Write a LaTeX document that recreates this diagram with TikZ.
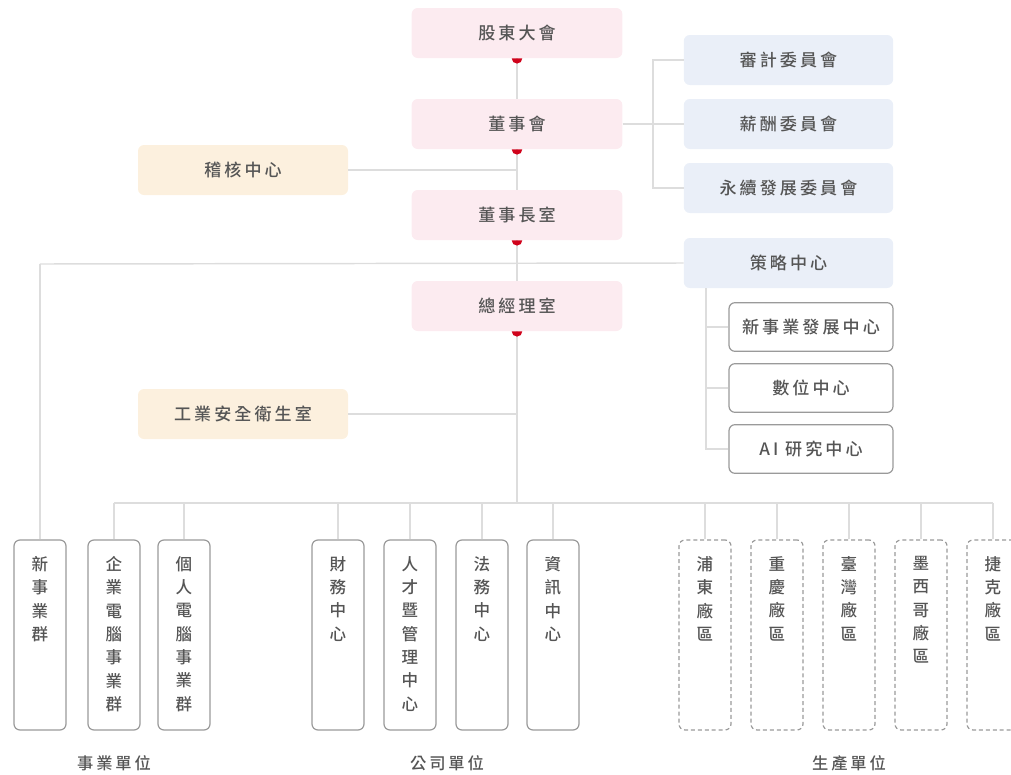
\documentclass[tikz,border=0pt]{standalone}
\usepackage{fontspec}
\setmainfont{Noto Sans CJK TC}[BoldFont={Noto Sans CJK TC Medium}]
\newfontfamily\cjkwide{Noto Sans CJK TC}[LetterSpace=18, BoldFont={Noto Sans CJK TC Medium}]
\usetikzlibrary{calc}

\definecolor{boardpink}{HTML}{FCEBF0}
\definecolor{cmteblue}{HTML}{EAEFF8}
\definecolor{staffbeige}{HTML}{FCF0DE}
\definecolor{linegray}{HTML}{DDDDDD}
\definecolor{boxgray}{HTML}{9A9A9A}
\definecolor{txtgray}{HTML}{555555}
\definecolor{dotred}{HTML}{D0021B}

\begin{document}
\begin{tikzpicture}[x=0.75pt,y=-0.75pt]
\tikzset{board/.style = {shape=rectangle, rounded corners=4.5pt, fill=boardpink, minimum width=158pt, minimum height=37.5pt, text=txtgray, font=\cjkwide\bfseries\fontsize{12.8}{15}\selectfont}}
\tikzset{cmte/.style = {board, fill=cmteblue, minimum width=157pt}}
\tikzset{staff/.style = {board, fill=staffbeige, minimum width=157.5pt}}
\tikzset{sub/.style = {board, fill=white, draw=boxgray, line width=0.9pt, minimum width=123pt, minimum height=36.5pt}}
\tikzset{unit/.style = {shape=rectangle, rounded corners=4.5pt, draw=boxgray, line width=0.9pt, minimum width=39pt, minimum height=142.5pt}}
\tikzset{unitdash/.style = {unit, dash pattern=on 3pt off 2.2pt}}
\tikzset{vtext/.style = {anchor=north, align=center, inner sep=0pt, text=txtgray, font=\bfseries\fontsize{12.4}{17.5}\selectfont}}
\tikzset{group/.style = {text=txtgray, font=\cjkwide\bfseries\fontsize{12.2}{14}\selectfont}}
\tikzset{link/.style = {draw=linegray, line width=1.1pt}}
\useasboundingbox (0,0) rectangle (1011,775);

% main line
\node[board] (meet) at (517,33) {股東大會};
\node[board] (bd) at (517,124) {董事會};
\node[board] (chair) at (517,215) {董事長室};
\node[board] (pres) at (517,306) {總經理室};

% committees
\node[cmte] (audit) at (788.5,60) {審計委員會};
\node[cmte] (pay) at (788.5,124) {薪酬委員會};
\node[cmte] (esg) at (788.5,188) {永續發展委員會};
\node[cmte] (strat) at (788.5,263) {策略中心};

\node[staff] (check) at (243,170) {稽核中心};
\node[staff] (safety) at (243,414) {工業安全衛生室};

\node[sub] (newdev) at (811,327) {新事業發展中心};
\node[sub] (digit) at (811,388) {數位中心};
\node[sub] (ai) at (811,449) {AI 研究中心};

\coordinate (busL) at (114,503);
\coordinate (busR) at (993,503);
\coordinate (stratL) at (40,264);
\coordinate (cmteV) at (653,124);
\coordinate (stratV) at (706,288);

\draw[link] (meet.south) -- (bd.north);
\draw[link] (bd.south) -- (chair.north);
\draw[link] (chair.south) -- (pres.north);
\draw[link] (pres.south) -- (pres.south |- busL);
\draw[link] (busL) -- (busR);

\draw[link] (bd.east) -- (pay.west);
\draw[link] (audit.west) -| (cmteV) |- (esg.west);
\draw[link] (check.east) -- (check.east -| chair.south);
\draw[link] (safety.east) -- (safety.east -| pres.south);

\draw[link] (strat.west) -- (stratL);
\draw[link] (stratV) |- (ai.west);
\draw[link] (newdev.west) -- (newdev.west -| stratV);
\draw[link] (digit.west) -- (digit.west -| stratV);

% bottom units
\node[unit] (nb) at (40,635) {};
\node[vtext] (nbt) at ([yshift=-12.5pt]nb.north) {新\\事\\業\\群};
\draw[link] (nb.north) -- (stratL);

\foreach \n/\x/\t in {eb/114/{企\\業\\電\\腦\\事\\業\\群}, pb/184/{個\\人\\電\\腦\\事\\業\\群},
  fin/338/{財\\務\\中\\心}, hr/410/{人\\才\\暨\\管\\理\\中\\心}, law/482/{法\\務\\中\\心}, it/553/{資\\訊\\中\\心}}{
  \node[unit] (\n) at (\x,635) {};
  \node[vtext] (\n t) at ([yshift=-12.5pt]\n.north) {\t};
  \draw[link] (\n.north) -- (\n.north |- busL);
}
\foreach \n/\x/\t in {pd/705/{浦\\東\\廠\\區}, cq/777/{重\\慶\\廠\\區}, tw/849/{臺\\灣\\廠\\區},
  mx/921/{墨\\西\\哥\\廠\\區}, cz/993/{捷\\克\\廠\\區}}{
  \node[unitdash] (\n) at (\x,635) {};
  \node[vtext] (\n t) at ([yshift=-12.5pt]\n.north) {\t};
  \draw[link] (\n.north) -- (\n.north |- busL);
}

\node[group] (gbiz) at (114,763) {事業單位};
\node[group] (gcorp) at (447,763) {公司單位};
\node[group] (gprod) at (849,763) {生產單位};

% red dots
\foreach \b in {meet,bd,chair,pres}{
  \fill[dotred] ([xshift=-4pt]\b.south) arc[start angle=180, end angle=360, radius=4pt] -- cycle;
}
\end{tikzpicture}
\end{document}
